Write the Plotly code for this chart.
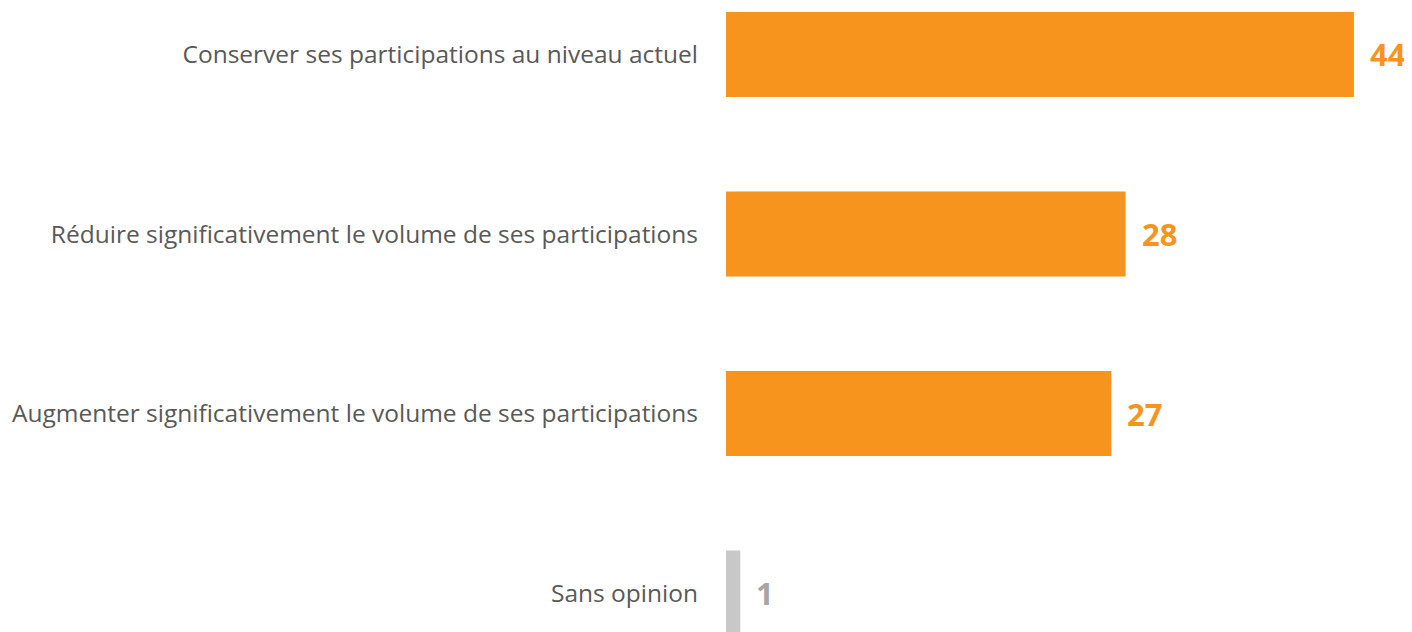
import plotly.graph_objects as go

categories = [
    "Conserver ses participations au niveau actuel",
    "Réduire significativement le volume de ses participations",
    "Augmenter significativement le volume de ses participations",
    "Sans opinion",
]
values = [44, 28, 27, 1]
bar_colors = ["#F7941E", "#F7941E", "#F7941E", "#C8C8C8"]
label_colors = ["#F7941D", "#F7941D", "#F7941D", "#A6A6A6"]

fig = go.Figure()
fig.add_trace(go.Bar(
    y=categories, x=values, orientation="h",
    marker=dict(color=bar_colors, line=dict(width=0)),
    hoverinfo="skip",
))
for c, v, col in zip(categories, values, label_colors):
    fig.add_annotation(
        x=v, y=c, text=f"<b>{v}</b>", showarrow=False,
        xanchor="left", yanchor="middle", xshift=14,
        font=dict(family="Open Sans", size=31, color=col),
    )

fig.update_layout(
    width=1404, height=624,
    margin=dict(l=718, r=1, t=0, b=0),
    paper_bgcolor="white", plot_bgcolor="white",
    bargap=0.526,
    showlegend=False,
    xaxis=dict(range=[0, 48], visible=False, showgrid=False, zeroline=False),
    yaxis=dict(
        type="category", categoryorder="array", categoryarray=categories,
        range=[3.217, -0.259], showgrid=False, zeroline=False, showline=False,
        ticks="", ticklabelstandoff=27,
        tickfont=dict(family="Open Sans", size=24.5, color="#595959"),
    ),
)
fig.write_html("out.html")
